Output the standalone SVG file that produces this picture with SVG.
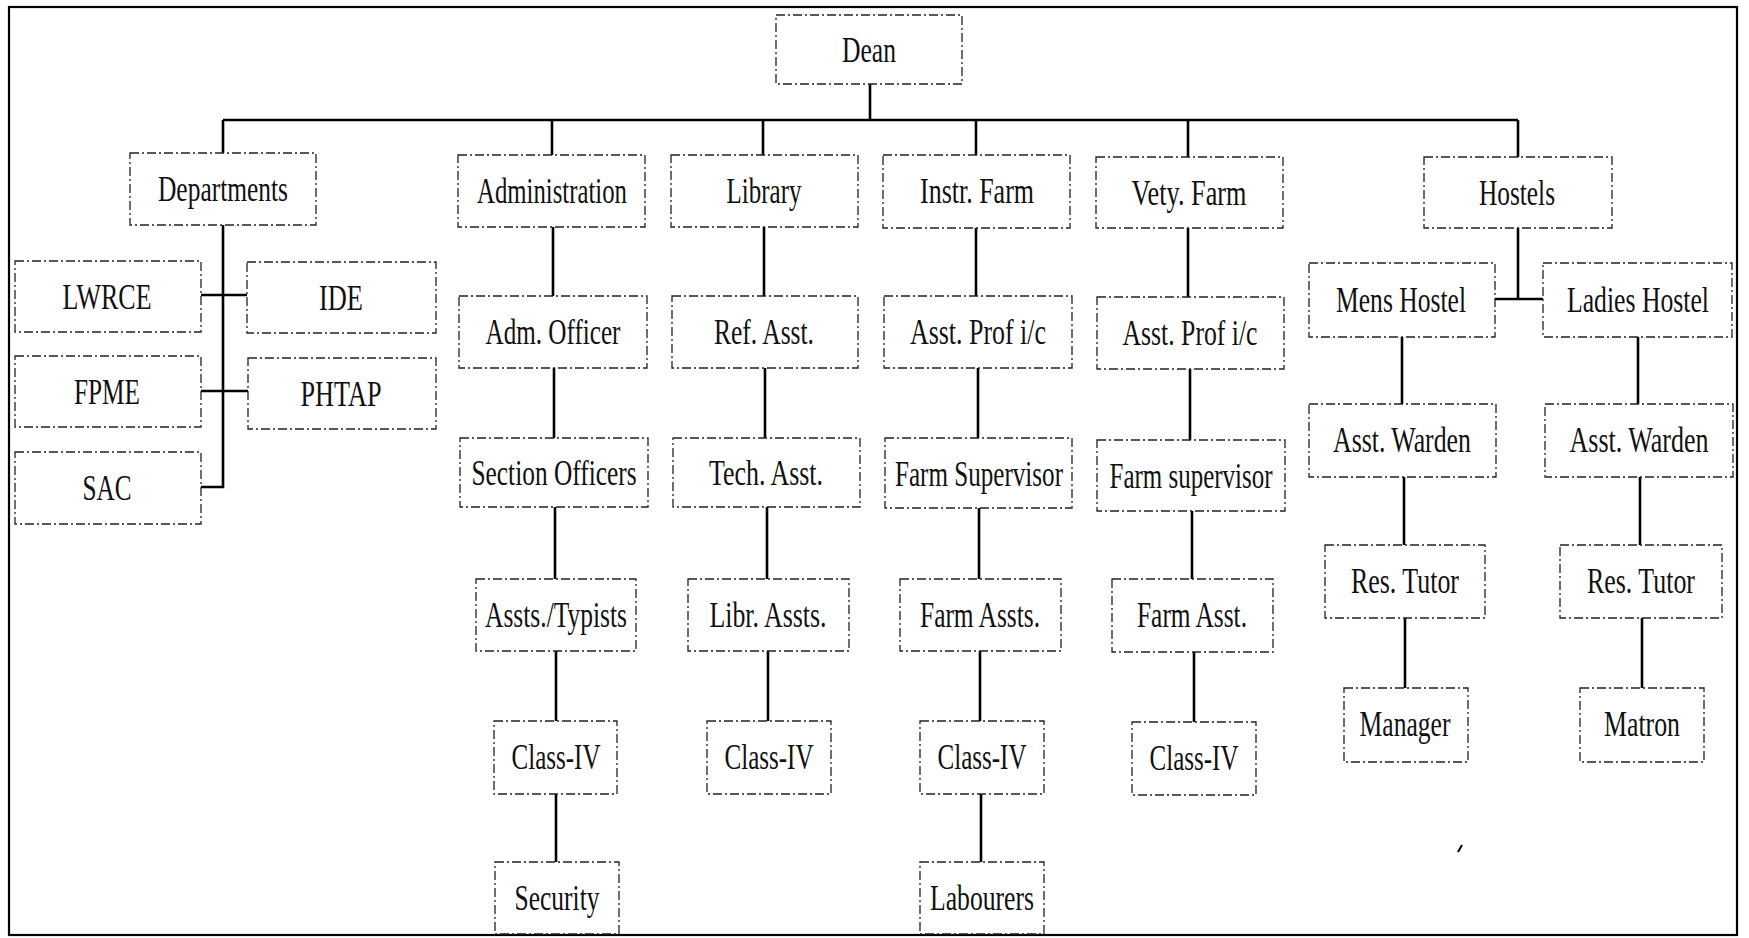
<svg xmlns="http://www.w3.org/2000/svg" width="1749" height="938" viewBox="0 0 1749 938">
<style>
.box{fill:none;stroke:#222;stroke-width:1.3;stroke-dasharray:9 3 2 3}
.lbl{font-family:"Liberation Serif","Times New Roman",serif;font-size:36px;fill:#111;text-anchor:middle}
.con{fill:none;stroke:#000;stroke-width:2.6}
.frame{fill:none;stroke:#000;stroke-width:2.2}
</style>
<rect width="1749" height="938" fill="#fff"/>
<rect class="frame" x="9" y="7" width="1728" height="928"/>
<g id="connectors">
<path class="con" d="M870 84V120M223 120H1518M223 120V153M552 120V155M763 120V155M976 120V155M1188 120V157M1518 120V157"/>
<path class="con" d="M223 225V487H201M201 295H247M201 391H248"/>
<path class="con" d="M553 227V296M554 368V438M555 507V579M556 651V721M556 794V862"/>
<path class="con" d="M764 227V296M765 368V438M767 507V579M768 651V721"/>
<path class="con" d="M976 228V296M978 368V438M979 508V579M980 651V721M981 794V862"/>
<path class="con" d="M1188 228V297M1190 369V440M1192 511V579M1194 652V722"/>
<path class="con" d="M1518 228V299M1495 299H1543"/>
<path class="con" d="M1402 337V404M1404 477V545M1405 618V688"/>
<path class="con" d="M1638 337V404M1640 477V545M1642 618V688"/>
</g>
<g id="dean"><rect class="box" x="776" y="15" width="186" height="69"/><text class="lbl" x="869" y="62" textLength="54" lengthAdjust="spacingAndGlyphs">Dean</text></g>
<g id="departments"><rect class="box" x="130" y="153" width="186" height="72"/><text class="lbl" x="223" y="201" textLength="130" lengthAdjust="spacingAndGlyphs">Departments</text></g>
<g id="administration"><rect class="box" x="458" y="155" width="187" height="72"/><text class="lbl" x="552" y="203" textLength="150" lengthAdjust="spacingAndGlyphs">Administration</text></g>
<g id="library"><rect class="box" x="671" y="155" width="187" height="72"/><text class="lbl" x="764" y="203" textLength="75" lengthAdjust="spacingAndGlyphs">Library</text></g>
<g id="instr-farm"><rect class="box" x="883" y="155" width="187" height="73"/><text class="lbl" x="977" y="203" textLength="114" lengthAdjust="spacingAndGlyphs">Instr. Farm</text></g>
<g id="vety-farm"><rect class="box" x="1096" y="157" width="187" height="71"/><text class="lbl" x="1189" y="205" textLength="115" lengthAdjust="spacingAndGlyphs">Vety. Farm</text></g>
<g id="hostels"><rect class="box" x="1424" y="157" width="188" height="71"/><text class="lbl" x="1517" y="205" textLength="76" lengthAdjust="spacingAndGlyphs">Hostels</text></g>
<g id="lwrce"><rect class="box" x="15" y="261" width="186" height="71"/><text class="lbl" x="107" y="309" textLength="89" lengthAdjust="spacingAndGlyphs">LWRCE</text></g>
<g id="ide"><rect class="box" x="247" y="262" width="189" height="71"/><text class="lbl" x="341" y="310" textLength="44" lengthAdjust="spacingAndGlyphs">IDE</text></g>
<g id="fpme"><rect class="box" x="15" y="356" width="186" height="71"/><text class="lbl" x="107" y="404" textLength="66" lengthAdjust="spacingAndGlyphs">FPME</text></g>
<g id="phtap"><rect class="box" x="248" y="358" width="188" height="71"/><text class="lbl" x="341" y="406" textLength="81" lengthAdjust="spacingAndGlyphs">PHTAP</text></g>
<g id="sac"><rect class="box" x="15" y="452" width="186" height="72"/><text class="lbl" x="107" y="500" textLength="49" lengthAdjust="spacingAndGlyphs">SAC</text></g>
<g id="adm-officer"><rect class="box" x="459" y="296" width="188" height="72"/><text class="lbl" x="553" y="344" textLength="135" lengthAdjust="spacingAndGlyphs">Adm. Officer</text></g>
<g id="ref-asst"><rect class="box" x="672" y="296" width="186" height="72"/><text class="lbl" x="764" y="344" textLength="100" lengthAdjust="spacingAndGlyphs">Ref. Asst.</text></g>
<g id="asst-prof-instr"><rect class="box" x="884" y="296" width="188" height="72"/><text class="lbl" x="978" y="344" textLength="136" lengthAdjust="spacingAndGlyphs">Asst. Prof i/c</text></g>
<g id="asst-prof-vety"><rect class="box" x="1097" y="297" width="187" height="72"/><text class="lbl" x="1190" y="345" textLength="135" lengthAdjust="spacingAndGlyphs">Asst. Prof i/c</text></g>
<g id="mens-hostel"><rect class="box" x="1309" y="263" width="186" height="74"/><text class="lbl" x="1401" y="312" textLength="130" lengthAdjust="spacingAndGlyphs">Mens Hostel</text></g>
<g id="ladies-hostel"><rect class="box" x="1543" y="263" width="189" height="74"/><text class="lbl" x="1638" y="312" textLength="142" lengthAdjust="spacingAndGlyphs">Ladies Hostel</text></g>
<g id="section-officers"><rect class="box" x="460" y="438" width="188" height="69"/><text class="lbl" x="554" y="485" textLength="165" lengthAdjust="spacingAndGlyphs">Section Officers</text></g>
<g id="tech-asst"><rect class="box" x="673" y="438" width="187" height="69"/><text class="lbl" x="766" y="485" textLength="114" lengthAdjust="spacingAndGlyphs">Tech. Asst.</text></g>
<g id="farm-supervisor-instr"><rect class="box" x="885" y="438" width="187" height="70"/><text class="lbl" x="979" y="486" textLength="168" lengthAdjust="spacingAndGlyphs">Farm Supervisor</text></g>
<g id="farm-supervisor-vety"><rect class="box" x="1097" y="440" width="188" height="71"/><text class="lbl" x="1191" y="488" textLength="163" lengthAdjust="spacingAndGlyphs">Farm supervisor</text></g>
<g id="asst-warden-mens"><rect class="box" x="1309" y="404" width="187" height="73"/><text class="lbl" x="1402" y="452" textLength="138" lengthAdjust="spacingAndGlyphs">Asst. Warden</text></g>
<g id="asst-warden-ladies"><rect class="box" x="1545" y="404" width="188" height="73"/><text class="lbl" x="1639" y="452" textLength="139" lengthAdjust="spacingAndGlyphs">Asst. Warden</text></g>
<g id="assts-typists"><rect class="box" x="476" y="579" width="160" height="72"/><text class="lbl" x="556" y="627" textLength="142" lengthAdjust="spacingAndGlyphs">Assts./Typists</text></g>
<g id="libr-assts"><rect class="box" x="688" y="579" width="161" height="72"/><text class="lbl" x="768" y="627" textLength="117" lengthAdjust="spacingAndGlyphs">Libr. Assts.</text></g>
<g id="farm-assts"><rect class="box" x="900" y="579" width="161" height="72"/><text class="lbl" x="980" y="627" textLength="120" lengthAdjust="spacingAndGlyphs">Farm Assts.</text></g>
<g id="farm-asst"><rect class="box" x="1112" y="579" width="161" height="73"/><text class="lbl" x="1192" y="627" textLength="110" lengthAdjust="spacingAndGlyphs">Farm Asst.</text></g>
<g id="res-tutor-mens"><rect class="box" x="1325" y="545" width="160" height="73"/><text class="lbl" x="1405" y="593" textLength="108" lengthAdjust="spacingAndGlyphs">Res. Tutor</text></g>
<g id="res-tutor-ladies"><rect class="box" x="1560" y="545" width="162" height="73"/><text class="lbl" x="1641" y="593" textLength="108" lengthAdjust="spacingAndGlyphs">Res. Tutor</text></g>
<g id="class-iv-admin"><rect class="box" x="494" y="721" width="123" height="73"/><text class="lbl" x="556" y="769" textLength="89" lengthAdjust="spacingAndGlyphs">Class-IV</text></g>
<g id="class-iv-library"><rect class="box" x="707" y="721" width="124" height="73"/><text class="lbl" x="769" y="769" textLength="89" lengthAdjust="spacingAndGlyphs">Class-IV</text></g>
<g id="class-iv-instr"><rect class="box" x="920" y="721" width="124" height="73"/><text class="lbl" x="982" y="769" textLength="89" lengthAdjust="spacingAndGlyphs">Class-IV</text></g>
<g id="class-iv-vety"><rect class="box" x="1132" y="722" width="124" height="73"/><text class="lbl" x="1194" y="770" textLength="89" lengthAdjust="spacingAndGlyphs">Class-IV</text></g>
<g id="manager"><rect class="box" x="1344" y="688" width="124" height="74"/><text class="lbl" x="1405" y="736" textLength="91" lengthAdjust="spacingAndGlyphs">Manager</text></g>
<g id="matron"><rect class="box" x="1580" y="688" width="124" height="74"/><text class="lbl" x="1642" y="736" textLength="76" lengthAdjust="spacingAndGlyphs">Matron</text></g>
<g id="security"><rect class="box" x="495" y="862" width="124" height="72"/><text class="lbl" x="557" y="910" textLength="85" lengthAdjust="spacingAndGlyphs">Security</text></g>
<g id="labourers"><rect class="box" x="920" y="862" width="124" height="72"/><text class="lbl" x="982" y="910" textLength="104" lengthAdjust="spacingAndGlyphs">Labourers</text></g>
<path d="M1458 852L1462 845" stroke="#000" stroke-width="2" fill="none"/>
</svg>
